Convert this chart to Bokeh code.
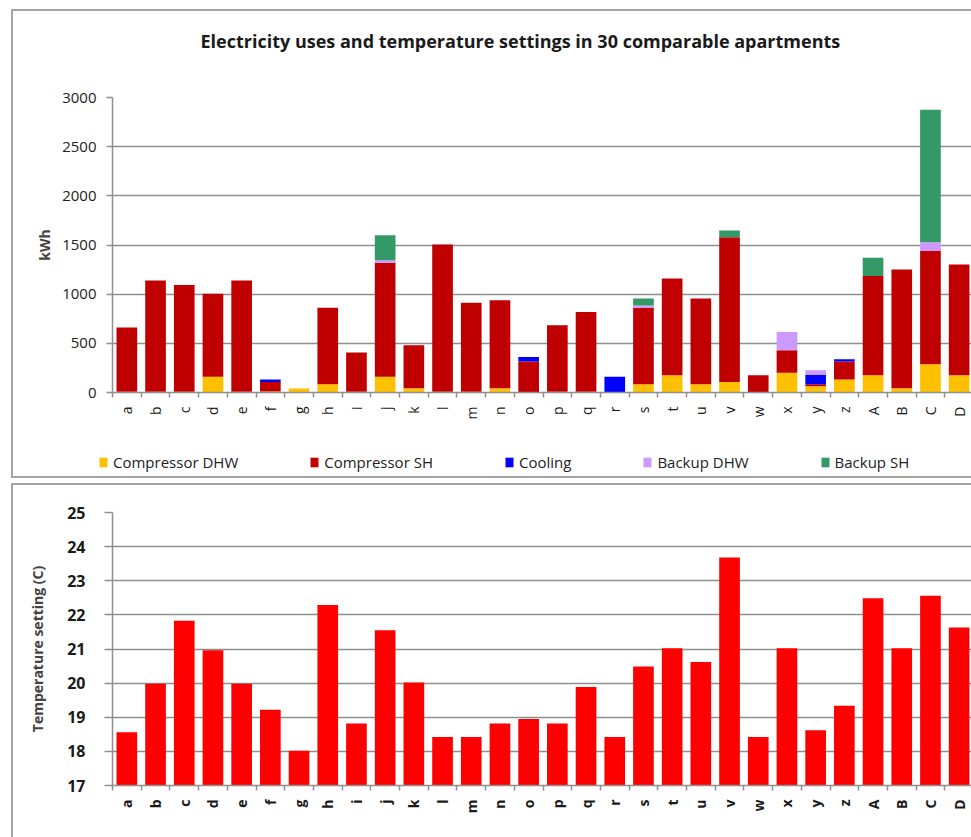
import math
from bokeh.plotting import figure
from bokeh.layouts import column, row
from bokeh.models import (ColumnDataSource, FactorRange, Legend, LegendItem, LinearAxis,
                          FixedTicker, CategoricalAxis, Range1d, Grid, Spacer, Title)
from bokeh.embed import file_html
from bokeh.resources import INLINE

apartments = list("abcdefghijklmnopqrstuvwxyz") + ["A", "B", "C", "D"]

compressor_dhw = [8, 8, 8, 160, 8, 10, 40, 85, 8, 160, 44, 8, 8, 44, 5,
                  8, 8, 0, 85, 176, 85, 108, 0, 200, 64, 132, 176, 44, 288, 176]
compressor_sh = [652, 1132, 1085, 845, 1132, 98, 0, 778, 398, 1160, 436, 1497, 905, 893, 310,
                 675, 811, 0, 778, 984, 872, 1472, 176, 230, 21, 183, 1008, 1208, 1150, 1126]
cooling = [0, 0, 0, 0, 0, 24, 0, 0, 0, 0, 0, 0, 0, 0, 47,
           0, 0, 159, 0, 0, 0, 0, 0, 0, 94, 23, 0, 0, 0, 0]
backup_dhw = [0, 0, 0, 0, 0, 0, 0, 0, 0, 24, 0, 0, 0, 0, 0,
              0, 0, 0, 23, 0, 0, 0, 0, 186, 48, 0, 0, 0, 91, 0]
backup_sh = [0, 0, 0, 0, 0, 0, 0, 0, 0, 254, 0, 0, 0, 0, 0,
             0, 0, 0, 71, 0, 0, 68, 0, 0, 0, 0, 186, 0, 1347, 0]

temperature = [18.56, 19.98, 21.83, 20.96, 19.98, 19.22, 18.02, 22.29, 18.82, 21.55,
               20.02, 18.42, 18.42, 18.82, 18.95, 18.82, 19.89, 18.42, 20.49, 21.02,
               20.62, 23.68, 18.42, 21.02, 18.62, 19.34, 22.49, 21.02, 22.56, 21.63]

series_names = ["Compressor DHW", "Compressor SH", "Cooling", "Backup DHW", "Backup SH"]
series_keys = ["cdhw", "csh", "cool", "bdhw", "bsh"]
series_colors = ["#FFC000", "#C00000", "#0000FF", "#CC99FF", "#339966"]
title_text = "Electricity uses and temperature settings in 30 comparable apartments"

FONT = "Open Sans"
GRID = "#8f8f8f"
BOX = "2px solid #a4a4a4"

src = ColumnDataSource(dict(apt=apartments, cdhw=compressor_dhw, csh=compressor_sh,
                            cool=cooling, bdhw=backup_dhw, bsh=backup_sh, temp=temperature))
xr = FactorRange(*apartments, range_padding=0)


def boundary_tick_axis():
    n = len(apartments)
    ax = LinearAxis(ticker=FixedTicker(ticks=list(range(0, n + 1))))
    ax.major_label_overrides = {i: "" for i in range(0, n + 1)}
    ax.major_label_standoff = 0
    ax.major_tick_out = 5
    ax.major_tick_in = 0
    ax.minor_tick_line_color = None
    ax.axis_line_color = GRID
    ax.axis_line_width = 1.5
    ax.major_tick_line_color = GRID
    ax.major_tick_line_width = 1.5
    return ax


def label_axis(bold):
    ax = CategoricalAxis()
    ax.axis_line_color = None
    ax.major_tick_line_color = None
    ax.major_label_orientation = math.pi / 2
    ax.major_label_text_font = FONT
    ax.major_label_text_font_size = "14px"
    ax.major_label_text_font_style = "bold" if bold else "normal"
    ax.major_label_text_color = "#1a1a1a"
    ax.major_label_standoff = 3
    return ax


def strip(**kw):
    f = figure(output_backend="svg", toolbar_location=None,
               x_axis_location=None, y_axis_location=None, **kw)
    f.outline_line_color = None
    for g in f.grid:
        g.visible = False
    return f


# ---------------- title strip (top of the upper box) ----------------
pt = strip(width=960, height=62, x_range=Range1d(0, 1), y_range=Range1d(0, 1), title=None,
           min_border_left=99, min_border_right=0, min_border_top=0, min_border_bottom=0)
pt.styles = {"border-left": BOX, "border-top": BOX, "box-sizing": "border-box"}
ttl = Title(text=title_text, text_font=FONT, text_font_size="18px", text_font_style="bold",
            text_color="#1a1a1a", align="left", offset=88, standoff=31)
pt.add_layout(ttl, "above")

# ---------------- top chart ----------------
p1 = strip(width=960, height=369, x_range=xr, y_range=Range1d(0, 3000), title=None,
           min_border_left=99, min_border_right=0, min_border_top=26, min_border_bottom=48)
p1.styles = {"border-left": BOX, "box-sizing": "border-box"}

p1.vbar_stack(series_keys, x="apt", width=0.72, color=series_colors,
              line_color=None, source=src)

yax = LinearAxis(ticker=FixedTicker(ticks=[0, 500, 1000, 1500, 2000, 2500, 3000]))
yax.axis_label = "kWh"
yax.axis_label_text_font = FONT
yax.axis_label_text_font_size = "14px"
yax.axis_label_text_font_style = "bold"
yax.axis_label_standoff = 5
yax.major_label_text_font = FONT
yax.major_label_text_font_size = "15px"
yax.major_label_text_color = "#222222"
yax.major_label_standoff = 10
yax.major_tick_out = 6
yax.major_tick_in = 0
yax.minor_tick_line_color = None
yax.axis_line_color = GRID
yax.axis_line_width = 1.5
yax.major_tick_line_color = GRID
yax.major_tick_line_width = 1.5
p1.add_layout(yax, "left")
p1.add_layout(boundary_tick_axis(), "below")
p1.add_layout(label_axis(False), "below")
p1.add_layout(Grid(dimension=1, ticker=yax.ticker, grid_line_color=GRID, grid_line_width=1.5))

# ---------------- legend strip (bottom of the upper box) ----------------
# same stacked series, hidden: only their legend swatches are drawn
pl = figure(frame_width=958, frame_height=36, x_range=xr, y_range=Range1d(-20, -10),
            output_backend="svg", toolbar_location=None,
            x_axis_location=None, y_axis_location=None,
            min_border_left=0, min_border_right=0, min_border_top=0, min_border_bottom=0)
pl.styles = {"border-left": BOX, "border-bottom": BOX, "box-sizing": "border-box"}
pl.outline_line_color = None
for g in pl.grid:
    g.visible = False
swatches = pl.vbar_stack(series_keys, x="apt", width=0.72, color=series_colors,
                         line_color=None, source=src)
for r in swatches:
    r.visible = False
legend = Legend(items=[LegendItem(label=n, renderers=[r]) for n, r in zip(series_names, swatches)],
                orientation="horizontal", location=(85, 6), spacing=71,
                label_text_font=FONT, label_text_font_size="15px", label_text_color="#222222",
                glyph_width=10, glyph_height=12, label_standoff=5, padding=0, margin=0,
                border_line_color=None, background_fill_alpha=0)
pl.add_layout(legend, "center")

# ---------------- bottom chart ----------------
p2 = strip(width=960, height=354, x_range=xr, y_range=Range1d(17, 25), title=None,
           min_border_left=97, min_border_right=0, min_border_top=27, min_border_bottom=54)
p2.styles = {"border-left": BOX, "border-top": BOX, "box-sizing": "border-box"}
p2.vbar(x="apt", top="temp", bottom=17, width=0.72, color="#FF0000", line_color=None, source=src)

yax2 = LinearAxis(ticker=FixedTicker(ticks=list(range(17, 26))))
yax2.axis_label = "Temperature setting (C)"
yax2.axis_label_text_font = FONT
yax2.axis_label_text_font_size = "14px"
yax2.axis_label_text_font_style = "bold"
yax2.axis_label_standoff = 17
yax2.major_label_text_font = FONT
yax2.major_label_text_font_size = "16px"
yax2.major_label_text_font_style = "bold"
yax2.major_label_text_color = "#1a1a1a"
yax2.major_label_standoff = 19
yax2.major_tick_out = 8
yax2.major_tick_in = 0
yax2.minor_tick_line_color = None
yax2.axis_line_color = GRID
yax2.axis_line_width = 1.5
yax2.major_tick_line_color = GRID
yax2.major_tick_line_width = 1.5
p2.add_layout(yax2, "left")
p2.add_layout(boundary_tick_axis(), "below")
p2.add_layout(label_axis(True), "below")
p2.add_layout(Grid(dimension=1, ticker=yax2.ticker, grid_line_color=GRID, grid_line_width=1.5))

layout = row(Spacer(width=11, height=837),
             column(Spacer(width=960, height=9), pt, p1, pl, Spacer(width=960, height=5), p2,
                    spacing=0),
             spacing=0)
open("out.html", "w").write(file_html(layout, INLINE))
